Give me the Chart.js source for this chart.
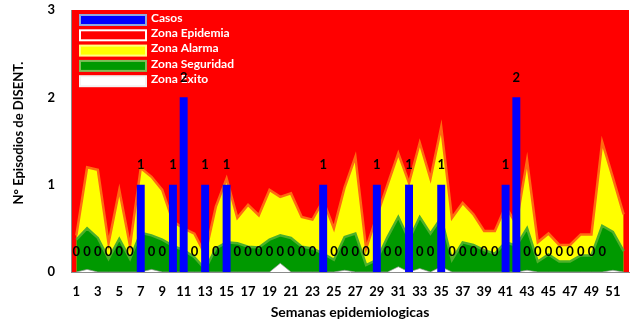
<!DOCTYPE html>
<html>
<head>
<meta charset="utf-8">
<script src="https://cdn.jsdelivr.net/npm/chart.js@4.4.1/dist/chart.umd.min.js"></script>
<style>
  html, body { margin: 0; padding: 0; background: #ffffff; }
  #wrap { width: 637px; height: 325px; }
</style>
</head>
<body>
<div id="wrap"><canvas id="c" width="637" height="325"></canvas></div>
<script>
// Semanas epidemiológicas 1–52
const semanas = ['1','2','3','4','5','6','7','8','9','10','11','12','13','14','15','16','17','18','19','20',
  '21','22','23','24','25','26','27','28','29','30','31','32','33','34','35','36','37','38','39','40',
  '41','42','43','44','45','46','47','48','49','50','51','52'];

// Casos de disentería por semana
const casos = [0,0,0,0,0,0,1,0,0,1, 2,0,1,0,1,0,0,0,0,0, 0,0,0,1,0,0,0,0,1,0,
  0,1,0,0,1,0,0,0,0,0, 1,2,0,0,0,0,0,0,0,0, null,null];

// Límite superior de cada zona del canal endémico
const zonaEpidemia = [3,3,3,3,3,3,3,3,3,3, 3,3,3,3,3,3,3,3,3,3, 3,3,3,3,3,3,3,3,3,3,
  3,3,3,3,3,3,3,3,3,3, 3,3,3,3,3,3,3,3,3,3, 3,3];
const zonaAlarma = [0.42,1.2,1.17,0.33,0.94,0.3,1.19,1.09,0.94,0.58, 0.5,0.44,0.2,0.75,1.07,0.62,0.77,0.65,0.94,0.86,
  0.9,0.63,0.6,0.82,0.5,0.97,1.32,0.27,0.64,1.0, 1.36,1.02,1.48,1.07,1.66,0.62,0.79,0.66,0.47,0.47,
  0.75,0.55,1.28,0.34,0.44,0.31,0.31,0.43,0.43,1.49, 1.08,0.66];
const zonaSeguridad = [0.37,0.5,0.39,0.15,0.38,0.15,0.45,0.42,0.37,0.3, 0.25,0.17,0.03,0.27,0.34,0.33,0.29,0.28,0.37,0.42,
  0.39,0.29,0.27,0.21,0.14,0.4,0.44,0.08,0.14,0.4, 0.63,0.37,0.63,0.44,0.62,0.14,0.34,0.31,0.25,0.21,
  0.34,0.3,0.5,0.12,0.2,0.12,0.12,0.19,0.19,0.53, 0.46,0.24];
const zonaExito = [0,0.03,0,0,0,0,0,0.03,0,0, 0,0,0,0,0,0,0,0,0,0.1,
  0,0,0,0,0,0.02,0,0,0,0, 0.06,0,0.04,0,0.06,0,0,0,0,0,
  0,0,0.02,0,0,0,0,0,0,0, 0.02,0];

const FONT = 'Lato, "Open Sans", sans-serif';

// Red epidemic zone behind everything in the plot area
const plotBackground = {
  id: 'plotBackground',
  beforeDraw(chart) {
    const { ctx, chartArea: a } = chart;
    ctx.save();
    ctx.fillStyle = '#FF0000';
    ctx.fillRect(a.left, a.top, a.right - a.left, a.bottom - a.top);
    ctx.restore();
  }
};

// Legend boxes drawn inside the plot area, upper left
const swatchBorders = ['#8EA9DB', '#FFFFFF', '#FFFF80', '#7FBF5A', '#F2F2F2'];
const insideLegend = {
  id: 'insideLegend',
  afterDatasetsDraw(chart) {
    const { ctx, chartArea: a } = chart;
    const x0 = a.left + 9, w = 66, h = 10;
    ctx.save();
    chart.data.datasets.forEach((ds, i) => {
      const cy = a.top + 10 + i * 15.3;
      ctx.fillStyle = ds.backgroundColor;
      ctx.fillRect(x0, cy - h / 2, w, h);
      ctx.lineWidth = 2;
      ctx.strokeStyle = swatchBorders[i];
      ctx.strokeRect(x0, cy - h / 2, w, h);
      ctx.fillStyle = '#FFFFFF';
      ctx.font = 'bold 12px ' + FONT;
      ctx.textAlign = 'left';
      ctx.textBaseline = 'middle';
      ctx.fillText(ds.label, x0 + w + 5, cy - 2);
    });
    ctx.restore();
  }
};

// Case counts written above each bar
const barValues = {
  id: 'barValues',
  afterDraw(chart) {
    const { ctx } = chart;
    const meta = chart.getDatasetMeta(0);
    const data = chart.data.datasets[0].data;
    ctx.save();
    ctx.fillStyle = '#000000';
    ctx.font = 'bold 13px ' + FONT;
    ctx.textAlign = 'center';
    ctx.textBaseline = 'middle';
    meta.data.forEach((el, i) => {
      if (data[i] === null || data[i] === undefined) return;
      ctx.fillText(String(data[i]), el.x, el.y - 20);
    });
    ctx.restore();
  }
};

const areaLine = (label, data, fillColor, lineColor, lineWidth, order) => ({
  type: 'line', label, data, order,
  backgroundColor: fillColor, borderColor: lineColor, borderWidth: lineWidth,
  fill: 'origin', pointRadius: 0, tension: 0
});

new Chart(document.getElementById('c'), {
  type: 'bar',
  data: {
    labels: semanas,
    datasets: [
      { type: 'bar', label: 'Casos', data: casos, backgroundColor: '#0000FF',
        barPercentage: 0.74, categoryPercentage: 1, order: 0 },
      areaLine('Zona Epidemia', zonaEpidemia, '#FF0000', 'rgba(0,0,0,0)', 0, 4),
      areaLine('Zona Alarma', zonaAlarma, '#FFFF00', '#FF6A10', 2.5, 3),
      areaLine('Zona Seguridad', zonaSeguridad, '#009900', '#4DB02A', 2.5, 2),
      areaLine('Zona Exito', zonaExito, '#FFFFFF', 'rgba(150,150,150,0.7)', 1, 1)
    ]
  },
  options: {
    responsive: false,
    animation: false,
    devicePixelRatio: 1,
    layout: { padding: { top: 10, right: 8, left: 0, bottom: 0 } },
    plugins: { legend: { display: false }, tooltip: { enabled: false } },
    scales: {
      x: {
        grid: { display: false, drawTicks: false },
        border: { display: true, color: '#8C8C8C', width: 1 },
        ticks: {
          autoSkip: false, maxRotation: 0, minRotation: 0, padding: 12,
          color: '#000000', font: { family: FONT, size: 13, weight: 'bold' },
          callback(value, index) { return index % 2 === 0 ? this.getLabelForValue(value) : ''; }
        },
        title: { display: true, text: 'Semanas epidemiologicas', color: '#000000',
          font: { family: FONT, size: 14, weight: 'bold' }, padding: { top: 0, bottom: 4 } },
        afterFit(scale) { scale.height = 53; scale.paddingLeft = 0; scale.paddingRight = 0; }
      },
      y: {
        min: 0, max: 3,
        grid: { display: false, drawTicks: false },
        border: { display: true, color: '#8C8C8C', width: 1 },
        ticks: { stepSize: 1, padding: 16, color: '#000000',
          font: { family: FONT, size: 13, weight: 'bold' } },
        title: { display: true, text: '\u00A0\u00A0\u00A0\u00A0\u00A0N° Episodios de DISENT.', color: '#000000',
          font: { family: FONT, size: 13, weight: 'bold' }, padding: { top: 11, bottom: 0 } },
        afterFit(scale) { scale.width = 71; scale.paddingTop = 0; scale.paddingBottom = 0; }
      }
    }
  },
  plugins: [plotBackground, insideLegend, barValues]
});
</script>
</body>
</html>
